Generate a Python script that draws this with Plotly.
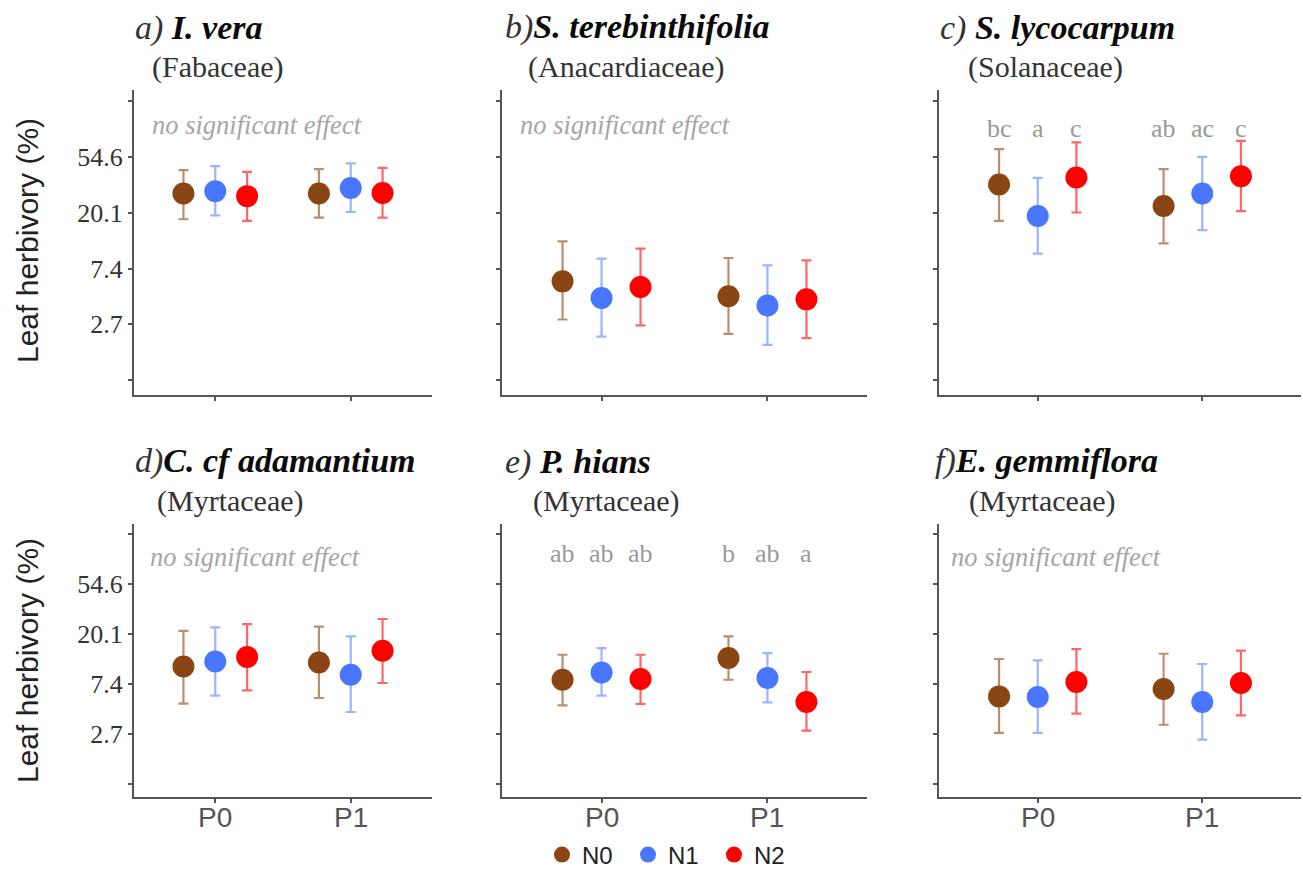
import math
import plotly.graph_objects as go

W, H = 1303, 870

groups = ["N0", "N1", "N2"]
periods = ["P0", "P1"]
tick_vals = [1.0, 2.718, 7.389, 20.09, 54.6, 148.4]
tick_text = ["", "2.7", "7.4", "20.1", "54.6", ""]

# rows = groups (N0, N1, N2); columns = periods (P0, P1)
a_mean = [[28.4, 28.4], [29.6, 31.4], [27.1, 28.7]]
a_low = [[17.9, 18.4], [19.2, 20.4], [17.4, 18.4]]
a_high = [[43.2, 44.0], [46.4, 48.8], [41.9, 45.0]]

b_mean = [[5.87, 4.50], [4.35, 3.81], [5.30, 4.25]]
b_low = [[2.96, 2.29], [2.18, 1.88], [2.66, 2.12]]
b_high = [[12.05, 8.93], [8.83, 7.83], [10.57, 8.56]]

c_mean = [[33.4, 22.7], [19.0, 28.4], [37.9, 38.8]]
c_low = [[17.4, 11.6], [9.66, 14.7], [20.2, 20.7]]
c_high = [[63.1, 44.0], [37.6, 54.9], [71.1, 73.2]]
c_letters = [["bc", "ab"], ["a", "ac"], ["c", "c"]]

d_mean = [[10.47, 11.35], [11.58, 8.86], [12.64, 14.34]]
d_low = [[4.96, 5.56], [5.82, 4.20], [6.47, 7.51]]
d_high = [[21.4, 23.3], [22.9, 19.1], [24.5, 27.1]]

e_mean = [[8.02, 12.39], [9.28, 8.30], [8.13, 5.13]]
e_low = [[4.79, 8.02], [5.82, 5.09], [4.93, 2.89]]
e_high = [[13.24, 19.1], [15.1, 13.7], [13.24, 9.36]]
e_letters = [["ab", "b"], ["ab", "ab"], ["ab", "a"]]

f_mean = [[5.74, 6.66], [5.67, 5.13], [7.66, 7.51]]
f_low = [[2.76, 3.25], [2.76, 2.41], [4.06, 3.92]]
f_high = [[12.15, 13.5], [11.81, 10.99], [14.84, 14.4]]

panel_labels = ["a) ", "b)", "c) ", "d)", "e) ", "f)"]
species = ["I. vera", "S. terebinthifolia", "S. lycocarpum",
           "C. cf adamantium", "P. hians", "E. gemmiflora"]
families = ["(Fabaceae)", "(Anacardiaceae)", "(Solanaceae)",
            "(Myrtaceae)", "(Myrtaceae)", "(Myrtaceae)"]
no_effect = [True, True, False, True, False, True]

panels = [
    (a_mean, a_low, a_high, None),
    (b_mean, b_low, b_high, None),
    (c_mean, c_low, c_high, c_letters),
    (d_mean, d_low, d_high, None),
    (e_mean, e_low, e_high, e_letters),
    (f_mean, f_low, f_high, None),
]

colors = ["#8B4513", "#4876FF", "#FF0000"]
bar_colors = ["rgba(139,69,19,0.6)", "rgba(72,118,255,0.55)", "rgba(255,0,0,0.6)"]
dodge = 0.235

SERIF = "Liberation Serif, Times New Roman, serif"
SANS = "Liberation Sans, Arial, sans-serif"

col_x = [(134, 432), (502, 867), (939, 1301)]
row_y = [(90, 395), (524, 797)]
title_pos = [(133, 28), (503, 27), (938, 28), (133, 461), (503, 462), (933, 461)]
family_pos = [(150, 67), (526, 67), (966, 67), (155, 501), (531, 501), (967, 501)]
effect_pos = [(150, 125), (518, 125), None, (148, 557), None, (949, 557)]
letter_y = [None, None, 128, None, 553, None]
period_label_y = 817

yrange = [math.log10(math.exp(-0.27)), math.log10(math.exp(5.205))]


def px(x):
    return x / W


def py(y):
    return 1 - y / H


fig = go.Figure()
layout = dict(
    width=W, height=H, margin=dict(l=0, r=0, t=0, b=0, autoexpand=False),
    paper_bgcolor="white", plot_bgcolor="white", showlegend=True,
)
annotations = []

for i, (mean, low, high, letters) in enumerate(panels):
    r, c = divmod(i, 3)
    n = i + 1
    xa = "x" if n == 1 else f"x{n}"
    ya = "y" if n == 1 else f"y{n}"
    xkey = "xaxis" if n == 1 else f"xaxis{n}"
    ykey = "yaxis" if n == 1 else f"yaxis{n}"
    x0, x1 = col_x[c]
    y0, y1 = row_y[r]
    layout[xkey] = dict(
        domain=[px(x0), px(x1)], anchor=ya, range=[0.4, 2.6],
        tickvals=[1, 2], ticktext=["", ""],
        showline=True, linecolor="#555555", linewidth=2,
        ticks="outside", ticklen=4, tickcolor="#555555", tickwidth=1.5,
        showgrid=False, zeroline=False,
    )
    layout[ykey] = dict(
        domain=[py(y1), py(y0)], anchor=xa, type="log", range=yrange,
        tickvals=tick_vals, ticktext=tick_text if c == 0 else [""] * len(tick_vals),
        showline=True, linecolor="#555555", linewidth=2,
        ticks="outside", ticklen=4, tickcolor="#555555", tickwidth=1.5,
        showgrid=False, zeroline=False,
        tickfont=dict(family=SERIF, size=26, color="#333333"),
    )
    if r == 1:
        for p, lab in enumerate(periods):
            annotations.append(dict(
                x=p + 1, y=py(period_label_y), xref=xa, yref="paper",
                text=lab, showarrow=False, xanchor="center", yanchor="middle",
                font=dict(family=SANS, size=28, color="#555555")))
    for g in range(3):
        xs = [p + 1 + (g - 1) * dodge for p in range(2)]
        ys = mean[g]
        up = [h - m for h, m in zip(high[g], ys)]
        dn = [m - l for m, l in zip(ys, low[g])]
        fig.add_trace(go.Scatter(
            x=xs, y=ys, xaxis=xa, yaxis=ya, mode="markers",
            name=groups[g], legendgroup=groups[g], showlegend=(i == 0),
            marker=dict(color=colors[g], size=22, line=dict(width=0)),
            error_y=dict(type="data", symmetric=False, array=up, arrayminus=dn,
                         color=bar_colors[g], thickness=2.2, width=5),
        ))
        if letters:
            for p in range(2):
                annotations.append(dict(
                    x=xs[p], y=py(letter_y[i]), xref=xa, yref="paper",
                    text=letters[g][p], showarrow=False,
                    font=dict(family=SERIF, size=26, color="#999999"),
                    xanchor="center", yanchor="middle"))
    tx, ty = title_pos[i]
    annotations.append(dict(
        x=px(tx), y=py(ty), xref="paper", yref="paper", showarrow=False,
        xanchor="left", yanchor="middle",
        text=(f"<span style='color:#333333'><i>{panel_labels[i]}</i></span>"
              f"<b><i>{species[i]}</i></b>"),
        font=dict(family=SERIF, size=34, color="#0a0a0a")))
    fx, fy = family_pos[i]
    annotations.append(dict(
        x=px(fx), y=py(fy), xref="paper", yref="paper", showarrow=False,
        xanchor="left", yanchor="middle", text=families[i],
        font=dict(family=SERIF, size=30, color="#333333")))
    if no_effect[i]:
        ex, ey = effect_pos[i]
        annotations.append(dict(
            x=px(ex), y=py(ey), xref="paper", yref="paper", showarrow=False,
            xanchor="left", yanchor="middle", text="<i>no significant effect</i>",
            font=dict(family=SERIF, size=26.5, color="#a6a6a6")))

for yc in (241, 661):
    annotations.append(dict(
        x=px(27), y=py(yc), xref="paper", yref="paper", showarrow=False,
        xanchor="center", yanchor="middle", textangle=-90,
        text="Leaf herbivory (%)",
        font=dict(family=SANS, size=30, color="#222222")))

layout["annotations"] = annotations
layout["legend"] = dict(
    orientation="h", xref="container", yref="container",
    x=px(542), y=py(855), xanchor="left", yanchor="middle",
    font=dict(family=SANS, size=24, color="#222222"),
    entrywidth=41, entrywidthmode="pixels", bgcolor="rgba(0,0,0,0)",
    itemsizing="trace",
)
fig.update_layout(**layout)
fig.write_html("out.html")
